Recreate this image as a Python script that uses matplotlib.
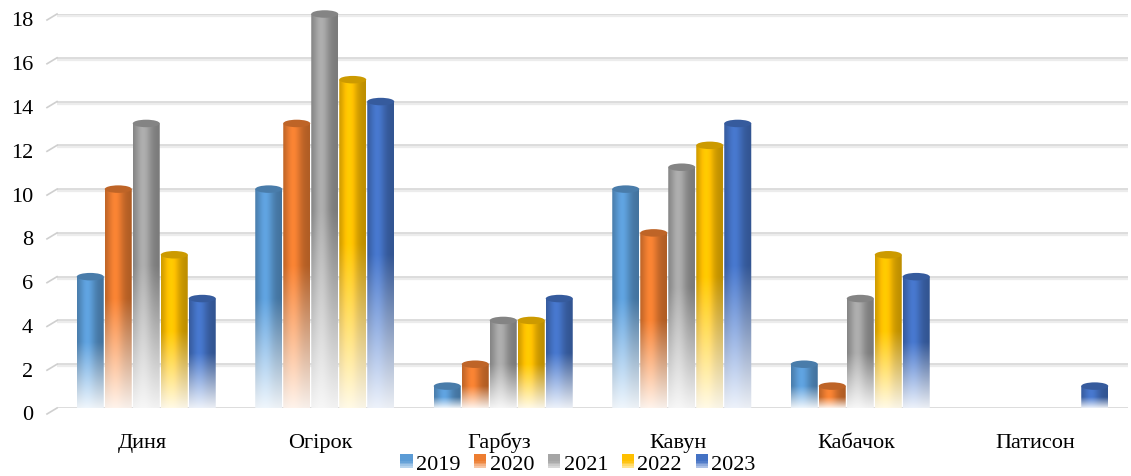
import numpy as np
import matplotlib
matplotlib.use('Agg')
import matplotlib.pyplot as plt
import matplotlib.transforms as mtransforms
from matplotlib.patches import Ellipse, PathPatch, Rectangle
from matplotlib.path import Path
from matplotlib.colors import to_rgb
from matplotlib.legend_handler import HandlerBase

# data
categories = ['Диня', 'Огірок', 'Гарбуз', 'Кавун', 'Кабачок', 'Патисон']
years = ['2019', '2020', '2021', '2022', '2023']
v2019 = [6, 10, 1, 10, 2, 0]
v2020 = [10, 13, 2, 8, 1, 0]
v2021 = [13, 18, 4, 11, 5, 0]
v2022 = [7, 15, 4, 12, 7, 0]
v2023 = [5, 14, 5, 13, 6, 1]
series = [v2019, v2020, v2021, v2022, v2023]
colors = ['#5B9BD5', '#ED7D31', '#A5A5A5', '#FFC000', '#4472C4']
yticks = list(range(0, 20, 2))

plt.rcParams['font.family'] = ['Liberation Serif', 'DejaVu Serif']
plt.rcParams['font.size'] = 16

W, H = 1131, 477
fig = plt.figure(figsize=(W / 100, H / 100), dpi=100)
ax = fig.add_axes([57 / W, 1 - 409 / H, 1071 / W, (409 - 15) / H])
ax.set_xlim(-0.5, 5.5)
ax.set_ylim(0, 18)
for s in ax.spines.values():
    s.set_visible(False)

px_per_unit = (409 - 15) / 18.0
px_per_cat = 1071 / 6.0
pitch = 28 / px_per_cat
bw = 27 / px_per_cat
cap_h = 7.5 / px_per_unit


def cylinder(xc, v, color, z):
    c = np.array(to_rgb(color))
    x0, x1 = xc - bw / 2, xc + bw / 2
    ylow = -cap_h / 2
    nx, ny = 64, 240
    u = (np.arange(nx) + 0.5) / nx
    shade = 0.74 + 0.32 * np.exp(-((u - 0.38) / 0.3) ** 2)
    body = np.clip(c[None, :] * shade[:, None], 0, 1)
    ys = np.linspace(ylow, v, ny)
    t = np.clip(ys / v, 0, 1)
    b = np.clip(t / 0.5, 0, 1)
    mix = 0.1 + 0.9 * b
    img = 1 - mix[:, None, None] * (1 - body[None, :, :])
    im = ax.imshow(img, extent=[x0, x1, ylow, v], origin='lower',
                   aspect='auto', interpolation='bilinear', zorder=z)
    # cylinder outline: straight sides, rounded bottom
    th = np.linspace(0, np.pi, 40)
    bx = xc - bw / 2 * np.cos(th)
    by = -cap_h / 2 * np.sin(th)
    verts = [(x0, v)] + list(zip(bx, by)) + [(x1, v), (x0, v)]
    codes = [Path.MOVETO] + [Path.LINETO] * (len(verts) - 2) + [Path.CLOSEPOLY]
    clip = PathPatch(Path(verts, codes), transform=ax.transData)
    im.set_clip_path(clip)
    im.set_clip_box(None)
    top = Ellipse((xc, v), bw, cap_h, facecolor=np.clip(c * 0.8, 0, 1),
                  edgecolor='none', zorder=z + 0.1, clip_on=False)
    ax.add_patch(top)


# back wall grid with small floor stubs at the left
yt = ax.get_yaxis_transform()
below = mtransforms.offset_copy(yt, fig=fig, y=-2, units='dots')
lab_tr = mtransforms.offset_copy(yt, fig=fig, x=-24, y=-7, units='dots')
for v in yticks:
    ax.plot([0, 1], [v, v], color='#d3d3d3', lw=1.1, transform=yt, zorder=1)
    ax.plot([0, 1], [v, v], color='#ececec', lw=1.6, transform=below, zorder=0.9)
    ax.plot([-10 / 1071, 0], [v - 6 / px_per_unit, v], color='#cfcfcf', lw=1.2,
            transform=yt, clip_on=False)
    ax.text(0, v, str(v), transform=lab_tr, ha='right', va='center')

z = 2
for i, cat in enumerate(categories):
    for j, vals in enumerate(series):
        if vals[i] > 0:
            cylinder(i + (j - 2) * pitch, vals[i], colors[j], z)
        z += 1

ax.set_yticks([])
ax.set_xticks([])
# category names on a common baseline under the floor
cat_tr = mtransforms.offset_copy(ax.get_xaxis_transform(), fig=fig, x=-4, y=-39,
                                 units='dots')
for i, cat in enumerate(categories):
    ax.text(i, 0, cat, transform=cat_tr, ha='center', va='baseline')


class FadeHandler(HandlerBase):
    def create_artists(self, legend, orig_handle, xd, yd, width, height,
                       fontsize, trans):
        c = np.array(to_rgb(orig_handle.get_facecolor()))
        arts = []
        n = 8
        for k in range(n):
            t = (k + 0.5) / n
            m = 0.35 + 0.65 * min(t / 0.5, 1)
            fc = 1 - m * (1 - c)
            arts.append(Rectangle((-xd, -yd + height * k / n), width, height / n,
                                  facecolor=fc, edgecolor='none', transform=trans))
        return arts


handles = [Rectangle((0, 0), 1, 1, facecolor=c) for c in colors]
fig.legend(handles, years, loc='center', bbox_to_anchor=(0.511, 1 - 465 / H),
           ncol=5, frameon=False, handlelength=0.55, handleheight=0.55,
           handletextpad=0.15, columnspacing=0.62, borderpad=0,
           handler_map={h: FadeHandler() for h in handles})

fig.savefig('out.png', dpi=100)
